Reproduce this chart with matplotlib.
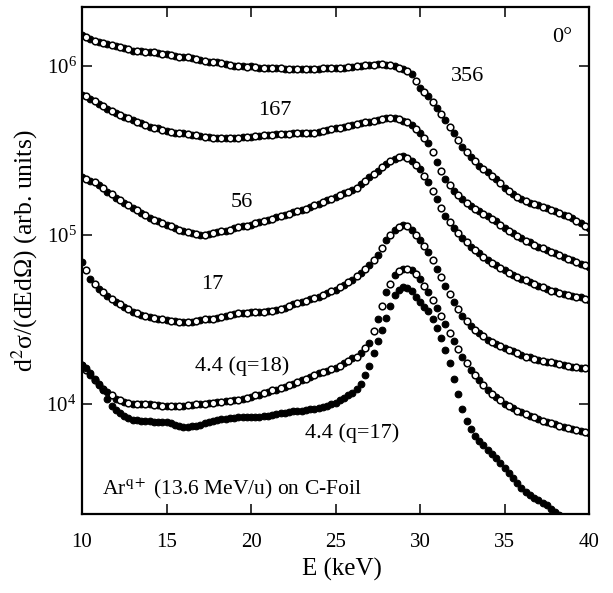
import numpy as np
import matplotlib
matplotlib.use("Agg")
import matplotlib.pyplot as plt
from matplotlib.ticker import NullLocator, FixedLocator

# energy grid (keV), 0.25 keV bins
energy = np.arange(10.0, 40.01, 0.25)

# log10 of d2sigma/(dE dOmega), read along the centre of each band
log_356 = [
    6.18, 6.17, 6.16, 6.15, 6.14, 6.135, 6.13, 6.125, 6.12, 6.11, 6.105, 6.10,
    6.09, 6.09, 6.085, 6.08, 6.08, 6.08, 6.075, 6.07, 6.07, 6.065, 6.06, 6.055,
    6.05, 6.05, 6.045, 6.04, 6.035, 6.03, 6.025, 6.02, 6.02, 6.015, 6.01, 6.005,
    6.00, 6.00, 6.00, 5.995, 6.00, 5.995, 5.99, 5.99, 5.99, 5.99, 5.985, 5.985,
    5.98, 5.98, 5.98, 5.98, 5.98, 5.98, 5.98, 5.98, 5.98, 5.985, 5.985, 5.99,
    5.99, 5.99, 5.99, 5.995, 5.995, 6.00, 6.00, 6.005, 6.005, 6.005, 6.01, 6.01,
    6.005, 6.005, 6.00, 5.99, 5.98, 5.97, 5.95, 5.91, 5.87, 5.845, 5.82, 5.785,
    5.75, 5.715, 5.68, 5.64, 5.60, 5.56, 5.52, 5.49, 5.46, 5.435, 5.41, 5.39,
    5.37, 5.35, 5.33, 5.305, 5.28, 5.26, 5.24, 5.225, 5.21, 5.20, 5.19, 5.18,
    5.175, 5.165, 5.16, 5.15, 5.14, 5.13, 5.12, 5.11, 5.10, 5.085, 5.07, 5.055,
    5.04,
]
log_167 = [
    5.83, 5.82, 5.805, 5.79, 5.775, 5.76, 5.745, 5.73, 5.72, 5.71, 5.70, 5.69,
    5.68, 5.67, 5.66, 5.65, 5.64, 5.635, 5.63, 5.62, 5.615, 5.61, 5.605, 5.60,
    5.60, 5.595, 5.59, 5.59, 5.585, 5.58, 5.58, 5.575, 5.575, 5.575, 5.575, 5.575,
    5.575, 5.575, 5.58, 5.58, 5.58, 5.585, 5.585, 5.59, 5.59, 5.59, 5.595, 5.595,
    5.595, 5.595, 5.60, 5.60, 5.60, 5.60, 5.605, 5.605, 5.61, 5.615, 5.62, 5.625,
    5.63, 5.635, 5.64, 5.645, 5.65, 5.655, 5.66, 5.665, 5.67, 5.675, 5.68, 5.685,
    5.69, 5.69, 5.69, 5.685, 5.675, 5.665, 5.65, 5.625, 5.60, 5.575, 5.545, 5.49,
    5.43, 5.38, 5.33, 5.295, 5.26, 5.235, 5.21, 5.19, 5.17, 5.155, 5.14, 5.125,
    5.11, 5.095, 5.08, 5.06, 5.04, 5.025, 5.01, 4.995, 4.98, 4.965, 4.955, 4.94,
    4.93, 4.92, 4.91, 4.90, 4.89, 4.88, 4.87, 4.86, 4.85, 4.84, 4.83, 4.82,
    4.81,
]
log_56 = [
    5.34, 5.33, 5.32, 5.31, 5.295, 5.275, 5.255, 5.24, 5.22, 5.205, 5.19, 5.175,
    5.16, 5.145, 5.13, 5.115, 5.10, 5.09, 5.08, 5.07, 5.06, 5.05, 5.04, 5.03,
    5.02, 5.015, 5.01, 5.005, 5.00, 5.00, 5.005, 5.01, 5.015, 5.02, 5.025, 5.03,
    5.04, 5.045, 5.05, 5.055, 5.06, 5.07, 5.075, 5.08, 5.09, 5.095, 5.105, 5.11,
    5.12, 5.125, 5.135, 5.14, 5.15, 5.155, 5.165, 5.175, 5.185, 5.195, 5.205, 5.215,
    5.225, 5.235, 5.245, 5.255, 5.265, 5.28, 5.30, 5.32, 5.34, 5.36, 5.38, 5.40,
    5.42, 5.435, 5.45, 5.46, 5.465, 5.455, 5.44, 5.415, 5.39, 5.35, 5.31, 5.26,
    5.21, 5.16, 5.11, 5.075, 5.04, 5.01, 4.98, 4.955, 4.93, 4.91, 4.89, 4.87,
    4.85, 4.835, 4.82, 4.805, 4.79, 4.775, 4.76, 4.75, 4.74, 4.73, 4.72, 4.71,
    4.70, 4.69, 4.68, 4.67, 4.665, 4.655, 4.65, 4.645, 4.64, 4.635, 4.63, 4.62,
    4.615,
]
log_17 = [
    4.84, 4.79, 4.74, 4.71, 4.68, 4.66, 4.64, 4.62, 4.605, 4.59, 4.575, 4.56,
    4.545, 4.535, 4.525, 4.52, 4.515, 4.51, 4.505, 4.50, 4.495, 4.49, 4.49, 4.485,
    4.485, 4.485, 4.485, 4.49, 4.495, 4.50, 4.50, 4.505, 4.51, 4.515, 4.52, 4.525,
    4.53, 4.535, 4.54, 4.54, 4.545, 4.545, 4.545, 4.545, 4.55, 4.55, 4.555, 4.56,
    4.57, 4.58, 4.59, 4.595, 4.605, 4.61, 4.62, 4.625, 4.635, 4.645, 4.655, 4.665,
    4.675, 4.69, 4.705, 4.72, 4.735, 4.755, 4.775, 4.80, 4.82, 4.85, 4.88, 4.925,
    4.97, 5.00, 5.03, 5.045, 5.06, 5.05, 5.03, 5.00, 4.97, 4.935, 4.90, 4.85,
    4.80, 4.75, 4.70, 4.65, 4.60, 4.56, 4.52, 4.49, 4.46, 4.44, 4.42, 4.40,
    4.38, 4.365, 4.355, 4.34, 4.33, 4.32, 4.31, 4.30, 4.29, 4.28, 4.275, 4.265,
    4.26, 4.255, 4.25, 4.245, 4.24, 4.235, 4.23, 4.225, 4.22, 4.22, 4.215, 4.21,
    4.21,
]
log_q18 = [
    4.23, 4.20, 4.17, 4.14, 4.11, 4.09, 4.07, 4.05, 4.03, 4.02, 4.01, 4.005,
    4.00, 4.00, 4.00, 4.00, 4.00, 3.995, 3.995, 3.99, 3.99, 3.99, 3.99, 3.99,
    3.99, 3.995, 3.995, 4.00, 4.00, 4.00, 4.005, 4.005, 4.01, 4.01, 4.015, 4.015,
    4.02, 4.025, 4.03, 4.035, 4.04, 4.05, 4.055, 4.065, 4.07, 4.08, 4.085, 4.095,
    4.10, 4.11, 4.12, 4.13, 4.14, 4.15, 4.16, 4.17, 4.18, 4.19, 4.195, 4.205,
    4.21, 4.225, 4.24, 4.255, 4.27, 4.28, 4.30, 4.33, 4.36, 4.43, 4.50, 4.58,
    4.66, 4.71, 4.76, 4.785, 4.80, 4.80, 4.79, 4.77, 4.74, 4.70, 4.66, 4.615,
    4.57, 4.52, 4.47, 4.42, 4.37, 4.325, 4.28, 4.24, 4.20, 4.17, 4.14, 4.11,
    4.08, 4.06, 4.04, 4.02, 4.00, 3.99, 3.975, 3.96, 3.95, 3.94, 3.93, 3.92,
    3.91, 3.90, 3.895, 3.885, 3.88, 3.87, 3.865, 3.855, 3.85, 3.845, 3.84, 3.835,
    3.83,
]
log_q17 = [
    4.23, 4.21, 4.18, 4.15, 4.12, 4.08, 4.03, 3.99, 3.965, 3.945, 3.93, 3.915,
    3.905, 3.905, 3.90, 3.90, 3.90, 3.895, 3.895, 3.89, 3.89, 3.885, 3.875, 3.87,
    3.865, 3.865, 3.87, 3.87, 3.875, 3.885, 3.89, 3.90, 3.905, 3.91, 3.91, 3.915,
    3.915, 3.92, 3.92, 3.92, 3.925, 3.925, 3.925, 3.93, 3.93, 3.935, 3.94, 3.945,
    3.945, 3.95, 3.955, 3.96, 3.96, 3.965, 3.97, 3.97, 3.975, 3.98, 3.99, 4.00,
    4.005, 4.02, 4.035, 4.05, 4.065, 4.09, 4.12, 4.17, 4.225, 4.30, 4.37, 4.44,
    4.51, 4.58, 4.645, 4.675, 4.69, 4.685, 4.665, 4.635, 4.60, 4.575, 4.55, 4.50,
    4.45, 4.39, 4.32, 4.24, 4.15, 4.06, 3.97, 3.90, 3.85, 3.81, 3.78, 3.755,
    3.73, 3.705, 3.68, 3.65, 3.62, 3.59, 3.56, 3.53, 3.50, 3.48, 3.46, 3.445,
    3.43, 3.415, 3.40, 3.38, 3.36, 3.345, 3.33, 3.315, 3.30, 3.285, 3.27, 3.255,
    3.24,
]

curves = [log_356, log_167, log_56, log_17, log_q18, log_q17]
curve_labels = ["356", "167", "56", "17", "4.4 (q=18)", "4.4 (q=17)"]
label_pos = [(32.84, 8.7e5), (21.42, 5.42e5), (19.47, 1.55e5),
             (17.69, 5.06e4), (19.47, 1.68e4), (25.98, 6.73e3)]

plt.rcParams["font.family"] = ["Liberation Serif", "DejaVu Serif"]
plt.rcParams["mathtext.fontset"] = "stix"

fig = plt.figure(figsize=(6.13, 5.93), dpi=100)
ax = fig.add_axes([0.1338, 0.1332, 0.8271, 0.8550])

for i, vals in enumerate(curves):
    y = 10 ** np.array(vals)
    if i == 5:
        ax.plot(energy, y, "o", ms=4.8, mfc="black", mec="black", mew=0.8)
    else:
        ax.plot(energy[::2], y[::2], "o", ms=4.8, mfc="black", mec="black", mew=0.8)
        ax.plot(energy[1::2], y[1::2], "o", ms=4.8, mfc="white", mec="black", mew=1.1)

for txt, (xp, yp) in zip(curve_labels, label_pos):
    ax.text(xp, yp, txt, fontsize=16, ha="center", va="center")

ax.text(38.4, 1.47e6, "0°", fontsize=16, ha="center", va="center")
ax.text(11.2, 3.14e3, r"Ar$^{\mathrm{q+}}$ (13.6 MeV/u) on C-Foil", fontsize=15.5,
        ha="left", va="center")

ax.set_yscale("log")
ax.set_xlim(10, 40)
ax.set_ylim(2.23e3, 2.23e6)
ax.xaxis.set_major_locator(FixedLocator([10, 15, 20, 25, 30, 35, 40]))
ax.yaxis.set_major_locator(FixedLocator([1e4, 1e5, 1e6]))
ax.yaxis.set_minor_locator(NullLocator())
ax.tick_params(direction="in", length=7, width=1.1, top=True, right=True,
               labelsize=15)
ax.tick_params(axis="x", pad=14)
ax.tick_params(axis="y", pad=4)
for sp in ax.spines.values():
    sp.set_linewidth(1.6)

ax.set_xlabel("E (keV)", fontsize=18)
ax.set_ylabel("d$^{2}$σ/(dEdΩ) (arb. units)", fontsize=18.5)
ax.xaxis.set_label_coords(0.513, -0.087)
ax.yaxis.set_label_coords(-0.083, 0.519)

fig.savefig("out.png", dpi=100)
